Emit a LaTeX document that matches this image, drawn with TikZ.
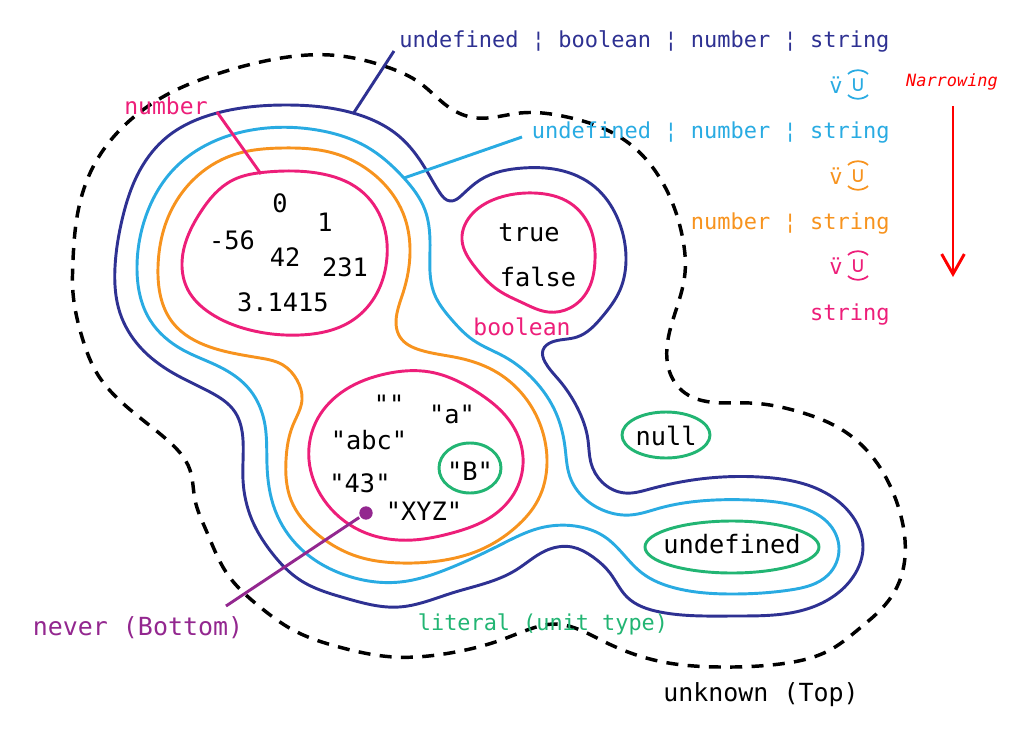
\documentclass[tikz,border=0pt]{standalone}
\usepackage{fontspec}
\setmainfont{DejaVu Sans Mono}[Ligatures=TeXOff]
\usetikzlibrary{arrows.meta,shapes.geometric,hobby}

\definecolor{tnavy}{RGB}{46,49,146}
\definecolor{tcyan}{RGB}{41,171,226}
\definecolor{torange}{RGB}{247,147,30}
\definecolor{tpink}{RGB}{237,30,121}
\definecolor{tgreen}{RGB}{34,181,115}
\definecolor{tpurple}{RGB}{147,39,143}

\tikzset{
  hdr/.style={font=\fontsize{16.5}{18}\selectfont, inner sep=0pt},
  val/.style={font=\fontsize{19}{21}\selectfont, inner sep=0pt},
  lbl/.style={font=\fontsize{17.3}{19}\selectfont, inner sep=0pt},
  blob/.style={closed hobby},
  narrow/.pic={
    \node[hdr] (-v) at (-11,0) {v̈};
    \node[hdr] (-u) at (11,0) {∪};
    \draw[line width=1.3pt] (1,-11) .. controls (6,-16) and (16,-16) .. (21,-11);
    \draw[line width=1.3pt] (1,10) .. controls (6,15) and (16,15) .. (21,10);
  }
}

\begin{document}
\begin{tikzpicture}[x=0.75pt,y=-0.75pt,line width=2.2pt]
    \useasboundingbox (0,0) rectangle (1033,729);

    % unknown (Top)
    \draw[black,line width=2.6pt,dash pattern=on 9pt off 7pt] plot[blob] coordinates {
      (73,260) (77,217) (93,167) (127,123) (170,93) (220,73) (270,60) (330,55) (387,67) (420,83)
      (453,110) (477,118) (520,113) (567,117) (613,133) (637,150) (656,172) (674,207) (683,240)
      (685,273) (677,307) (667,347) (670,373) (685,393) (710,402) (750,403) (800,412) (847,433)
      (877,463) (896,500) (905,540) (900,580) (885,605) (860,628) (830,650) (780,664) (720,667)
      (663,662) (607,643) (575,628) (554,624) (533,628) (501,640) (450,653) (394,657) (339,647)
      (293,630) (260,607) (228,575) (206,530) (195,500) (190,470) (165,438) (127,407)
      (98,375) (82,337) (73,293)};

    % undefined | boolean | number | string
    \draw[tnavy] plot[blob] coordinates {
      (287,105) (353,113) (400,137) (425,168) (440,193) (450,201) (462,195) (480,180) (523,168)
      (559,170) (595,187) (617,217) (626,257) (620,290) (602,317) (577,337) (552,342) (543,350)
      (545,362) (559,380) (577,407) (588,440) (591,463) (602,482) (625,493) (650,489) (700,479)
      (760,477) (820,490) (853,517) (863,547) (853,577) (810,608) (733,616) (660,612) (627,597)
      (610,573) (593,557) (572,547) (545,551) (516,570) (452,593) (399,607) (345,598) (300,580)
      (272,553) (252,520) (243,480) (243,440) (235,412) (210,392) (173,373) (140,347) (120,313)
      (115,267) (122,220) (140,170) (167,137) (217,113)};

    % undefined | number | string
    \draw[tcyan] plot[blob] coordinates {
      (267,128) (317,130) (367,147) (403,177) (425,210) (430,250) (434,293) (452,320) (473,340)
      (505,357) (534,380) (556,413) (565,447) (570,477) (583,497) (605,511) (630,515) (660,508)
      (700,501) (750,500) (800,507) (830,525) (839,548) (828,575) (790,590) (733,594) (675,588)
      (642,573) (624,555) (605,537) (575,526) (540,528) (500,545) (450,568) (400,582) (345,575)
      (300,548) (275,510) (267,465) (265,425) (250,390) (220,367) (183,350) (150,320) (137,267)
      (147,213) (173,170) (217,140)};

    % number | string
    \draw[torange] plot[blob] coordinates {
      (283,148) (333,153) (377,177) (403,213) (410,253) (403,293) (397,313) (400,337) (420,350)
      (459,358) (498,373) (527,400) (543,433) (547,463) (538,500) (516,527) (480,550) (445,560)
      (401,563) (359,557) (316,533) (291,500) (286,460) (293,425) (302,400) (297,380) (283,365)
      (260,358) (210,347) (173,323) (158,267) (167,220) (193,180) (233,155)};

    % number, boolean, string
    \draw[tpink] plot[blob] coordinates {
      (182,263) (200,213) (233,180) (267,172) (317,173) (360,190) (383,223) (387,257) (377,293)
      (353,320) (300,335) (250,330) (210,313) (188,290)};
    \draw[tpink] plot[blob] coordinates {
      (462,240) (473,213) (498,198) (534,193) (570,203) (591,230) (595,260) (588,290) (570,308)
      (548,312) (523,303) (498,290) (475,267)};
    \draw[tpink] plot[blob] coordinates {
      (309,460) (318,418) (345,390) (385,374) (430,372) (477,392) (509,420) (523,457) (516,490)
      (491,517) (452,533) (413,540) (359,530) (324,500)};

    % literal (unit type)
    \node[draw=tgreen,ellipse,minimum width=66pt,minimum height=34.5pt,inner sep=0pt] (nul) at (666,435) {};
    \node[draw=tgreen,ellipse,minimum width=130.5pt,minimum height=39pt,inner sep=0pt] (und) at (732,547) {};
    \node[draw=tgreen,ellipse,minimum width=46.5pt,minimum height=37.5pt,inner sep=0pt] (bee) at (470,468) {};

    % values
    \node[val] (n0) at (280,203) {0};
    \node[val] (n1) at (325,222) {1};
    \node[val] (n56) at (232,240) {-56};
    \node[val] (n42) at (285,257) {42};
    \node[val] (n231) at (345,267) {231};
    \node[val] (npi) at (283,302) {3.1415};
    \node[val,anchor=base] (btrue) at (529,241) {true};
    \node[val,anchor=base] (bfalse) at (538,286) {false};
    \node[val,anchor=base] (sempty) at (389,413) {""};
    \node[val,anchor=base] (sa) at (452,423) {"a"};
    \node[val,anchor=base] (sabc) at (369,449) {"abc"};
    \node[val,anchor=base] (s43) at (360,492) {"43"};
    \node[val,anchor=base] (sxyz) at (424,520) {"XYZ"};
    \node[val,anchor=base] (sb) at (470,480) {"B"};
    \node[val,anchor=base] (lnull) at (666,445) {null};
    \node[val,anchor=base] (lund) at (732,553) {undefined};

    % labels
    \node[lbl,tpink,anchor=base] (lnum) at (166,114) {number};
    \node[lbl,tpink,anchor=base] (lbool) at (522,335) {boolean};
    \node[font=\fontsize{18.7}{20}\selectfont,inner sep=0pt,tpurple,anchor=base] (never) at (138,635) {never (Bottom)};
    \node[font=\fontsize{16.4}{18}\selectfont,inner sep=0pt,tgreen,anchor=base] (lit) at (543,630) {literal (unit type)};
    \node[font=\fontsize{18.7}{20}\selectfont,inner sep=0pt,anchor=base] (unk) at (761,701) {unknown (Top)};

    % leader lines
    \coordinate (navyTip) at (394,51);
    \coordinate (navyEnd) at (353,114);
    \coordinate (cyanTip) at (522,137);
    \coordinate (cyanEnd) at (404,178);
    \coordinate (numTip) at (217,112);
    \coordinate (numEnd) at (261,174);
    \coordinate (neverTip) at (226,606);
    \draw[tnavy] (navyTip) -- (navyEnd);
    \draw[tcyan] (cyanTip) -- (cyanEnd);
    \draw[tpink] (numTip) -- (numEnd);
    \node[circle,fill=tpurple,minimum size=10pt,inner sep=0pt] (bot) at (366,513) {};
    \draw[tpurple] (bot) -- (neverTip);

    % narrowing chain
    \node[hdr,tnavy,anchor=base east] (h1) at (891,47) {undefined ¦ boolean ¦ number ¦ string};
    \node[hdr,tcyan,anchor=base east] (h2) at (891,138) {undefined ¦ number ¦ string};
    \node[hdr,torange,anchor=base east] (h3) at (891,229) {number ¦ string};
    \node[hdr,tpink,anchor=base east] (h4) at (891,320) {string};
    \pic[color=tcyan] (s1) at (847,85) {narrow};
    \pic[color=torange] (s2) at (847,176) {narrow};
    \pic[color=tpink] (s3) at (847,266) {narrow};

    \node[font=\fontsize{12.7}{14}\selectfont\itshape,red,inner sep=0pt] (nar) at (952,82) {Narrowing};
    \coordinate (arrTop) at (953,106);
    \coordinate (arrBot) at (953,277);
    \draw[red,-{Straight Barb[length=15pt,width=17pt]}] (arrTop) -- (arrBot);
\end{tikzpicture}
\end{document}
